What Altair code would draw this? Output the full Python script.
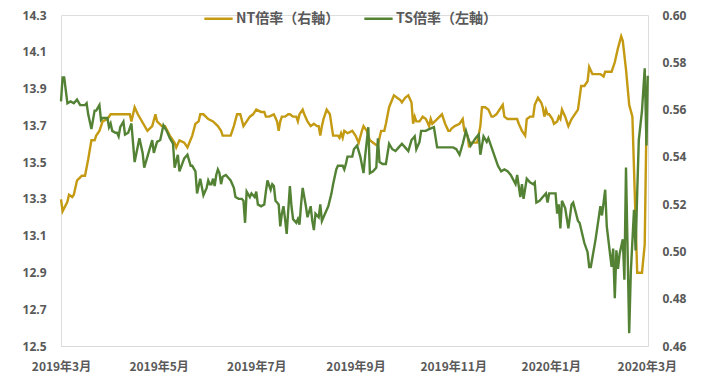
import altair as alt
import pandas as pd

# days since 2019-03-01 and values
nt_days = [0, 1, 4, 5, 7, 8, 10, 13, 15, 17, 19, 21, 22, 24, 26, 29, 31, 33, 43, 44, 46, 48, 54, 57, 59, 60,
           63, 65, 68, 71, 72, 74, 77, 79, 82, 84, 86, 87, 89, 92, 95, 98, 100, 101, 106, 107, 108, 110, 112,
           114, 116, 118, 120, 122, 125, 127, 128, 130, 133, 135, 136, 137, 138, 140, 142, 143, 145, 147, 148,
           149, 151, 152, 154, 156, 158, 160, 161, 162, 163, 164, 166, 168, 170, 172, 173, 174, 175, 176, 177,
           179, 182, 184, 186, 188, 189, 191, 193, 195, 197, 198, 199, 200, 202, 203, 205, 208, 210, 212, 213,
           214, 215, 217, 219, 220, 221, 222, 224, 226, 228, 230, 231, 232, 235, 238, 240, 242, 243, 244, 246,
           249, 251, 252, 254, 255, 256, 258, 260, 262, 263, 265, 267, 269, 270, 272, 275, 276, 277, 279, 283,
           285, 286, 288, 290, 291, 293, 295, 296, 298, 300, 301, 302, 303, 304, 305, 307, 308, 310, 311, 312,
           313, 315, 317, 319, 321, 323, 325, 327, 329, 330, 332, 337, 339, 340, 344, 346, 348, 350, 351, 353,
           355, 357, 360, 363, 364.7, 365.8]
nt_vals = [0.522, 0.517, 0.521, 0.524, 0.523, 0.524, 0.530, 0.532, 0.532, 0.539, 0.547, 0.547, 0.549, 0.551,
           0.555, 0.556, 0.558, 0.558, 0.558, 0.555, 0.561, 0.558, 0.551, 0.553, 0.558, 0.555,
           0.553, 0.553, 0.549, 0.546, 0.544, 0.547, 0.546, 0.544, 0.549, 0.554, 0.555, 0.558, 0.558, 0.556,
           0.555, 0.553, 0.551, 0.549, 0.549, 0.551, 0.553, 0.558, 0.558,
           0.553, 0.555, 0.557, 0.558, 0.560, 0.559, 0.559, 0.557, 0.557, 0.558, 0.555, 0.551, 0.555, 0.557,
           0.557, 0.558, 0.558, 0.557, 0.557, 0.555,
           0.558, 0.560, 0.558, 0.555, 0.553, 0.554, 0.553, 0.553, 0.549, 0.553, 0.556, 0.560, 0.558, 0.549,
           0.549, 0.549, 0.548, 0.550, 0.548, 0.551,
           0.550, 0.551, 0.549, 0.546, 0.551, 0.553, 0.551, 0.547, 0.546, 0.545, 0.545, 0.548, 0.551, 0.551,
           0.554, 0.561, 0.566, 0.565, 0.564, 0.563,
           0.564, 0.565, 0.566, 0.563, 0.554, 0.557, 0.555, 0.555, 0.557, 0.556, 0.553, 0.556, 0.554, 0.556,
           0.558, 0.554, 0.551, 0.551, 0.552, 0.553,
           0.554, 0.556, 0.551, 0.549, 0.544, 0.546, 0.546, 0.546, 0.553, 0.561, 0.561, 0.560, 0.557, 0.557,
           0.558, 0.561, 0.562, 0.557, 0.556, 0.556,
           0.556, 0.554, 0.551, 0.549, 0.556, 0.557, 0.557, 0.562, 0.565, 0.563, 0.561, 0.557, 0.560, 0.558,
           0.558, 0.556, 0.554, 0.555, 0.557, 0.556,
           0.560, 0.557, 0.553, 0.556, 0.558, 0.560, 0.570, 0.570, 0.572, 0.578, 0.575, 0.575, 0.574, 0.576,
           0.576, 0.580, 0.586, 0.591, 0.589, 0.577,
           0.562, 0.557, 0.491, 0.491, 0.503, 0.555]

ts_days = [0, 1, 2, 4, 6, 8, 10, 12, 15, 16, 17, 19, 21, 22, 24, 25, 26, 29, 30, 31, 32, 34, 35, 36, 37, 39,
           40, 42, 44, 46, 49, 51, 52, 55, 57, 58, 60, 62, 64, 66, 68, 70, 71, 73, 74, 77, 79, 81, 82, 84, 85,
           87, 89, 91, 92, 93, 94, 95, 96, 97, 98, 99, 100, 101, 103, 106, 108, 109, 111, 113, 114, 115, 116,
           118, 119, 121, 122, 123, 125, 127, 128, 129, 131, 132, 133, 134, 135, 136, 137, 138, 139, 140, 141,
           143, 144, 145, 147, 148, 149, 150, 151, 153, 154, 156, 157, 158, 159, 160, 161, 162, 163, 165, 167,
           169, 170, 172, 173, 175, 176, 177, 178, 179, 182, 183, 185, 186, 187, 189, 190, 192, 193, 195, 197,
           198, 199, 201, 203, 205, 207, 209, 211, 213, 215, 217, 219, 221, 222, 224, 225, 228, 230, 233, 235,
           238, 240, 242, 245, 247, 249, 251, 253, 254, 256, 259, 261, 262, 264, 266, 267, 269, 271, 273, 275,
           277, 279, 281, 284, 285, 287, 288, 289, 291, 293, 295, 296, 297, 299, 301, 303, 304, 305, 309, 310,
           311, 312, 313, 315, 317, 319, 320, 323, 324, 327, 329, 330, 331, 334, 337, 338, 340, 341, 344, 345,
           346, 347, 348, 349, 351, 352, 353, 355, 356, 358, 359, 360, 361, 363, 364.7, 365.8, 366.6]
ts_vals = [13.83, 13.96, 13.96, 13.82, 13.83, 13.82, 13.84, 13.81, 13.81, 13.82, 13.76, 13.68, 13.78, 13.78,
           13.81, 13.73, 13.74, 13.74, 13.69, 13.71, 13.67, 13.66, 13.66, 13.64, 13.69, 13.72,
           13.65, 13.66, 13.71, 13.50, 13.63, 13.55, 13.47, 13.56, 13.62, 13.55, 13.61, 13.62, 13.70, 13.67,
           13.63, 13.60, 13.47, 13.54, 13.45, 13.52, 13.54, 13.48, 13.48, 13.45, 13.33,
           13.41, 13.32, 13.36, 13.40, 13.38, 13.38, 13.41, 13.37, 13.43, 13.46, 13.44, 13.38, 13.42, 13.43,
           13.40, 13.36, 13.31, 13.30, 13.30, 13.29, 13.17, 13.34,
           13.31, 13.33, 13.31, 13.34, 13.27, 13.26, 13.27, 13.34, 13.40, 13.35, 13.38, 13.37, 13.29, 13.28,
           13.27, 13.15, 13.22, 13.26, 13.19, 13.11,
           13.37, 13.26, 13.19, 13.17, 13.19, 13.16, 13.27, 13.36, 13.26, 13.20, 13.26, 13.18, 13.13, 13.22,
           13.21, 13.20, 13.27, 13.18, 13.22, 13.26,
           13.33, 13.38, 13.46, 13.48, 13.48, 13.48, 13.46, 13.49, 13.53, 13.53, 13.57, 13.59, 13.56, 13.53,
           13.44, 13.53, 13.69, 13.44, 13.45, 13.47,
           13.63, 13.50, 13.49, 13.49, 13.60, 13.57, 13.56, 13.58, 13.60, 13.58, 13.56, 13.62, 13.64, 13.57,
           13.61, 13.67, 13.67, 13.68, 13.69, 13.58,
           13.58, 13.58, 13.58, 13.58, 13.57, 13.54, 13.60, 13.67, 13.64, 13.59, 13.63, 13.65, 13.54, 13.64,
           13.61, 13.63, 13.58, 13.53, 13.48, 13.45,
           13.46, 13.45, 13.43, 13.38, 13.43, 13.31, 13.38, 13.30, 13.41, 13.39, 13.38, 13.39, 13.28, 13.29,
           13.31, 13.33, 13.28, 13.33, 13.33, 13.22,
           13.27, 13.14, 13.29, 13.25, 13.14, 13.27, 13.28, 13.18, 13.17, 13.06, 13.01, 12.93, 12.93, 13.08,
           13.26, 13.21, 13.35, 13.15, 12.93, 13.03,
           12.76, 13.02, 12.92, 13.00, 13.08, 12.86, 13.47, 12.57, 12.90, 13.24, 13.02, 13.33, 13.62, 13.78,
           14.01, 13.59, 13.97]

series_names = ["NT倍率（右軸）", "TS倍率（左軸）"]
series_colors = ["#C49A12", "#548235"]

base_date = pd.Timestamp("2019-03-01")


def to_iso(days):
    return [(base_date + pd.Timedelta(days=float(d))).strftime("%Y-%m-%dT%H:%M:%SZ") for d in days]


nt_df = pd.DataFrame({"date": to_iso(nt_days), "value": nt_vals, "series": series_names[0]})
ts_df = pd.DataFrame({"date": to_iso(ts_days), "value": ts_vals, "series": series_names[1]})

CJK = "Noto Sans CJK JP"
NUM = "Noto Sans"
GREY = "#595959"

x_ticks = [alt.DateTime(year=y, month=m, date=1, utc=True)
           for (y, m) in [(2019, 3), (2019, 5), (2019, 7), (2019, 9), (2019, 11), (2020, 1), (2020, 3)]]

x_enc = alt.X(
    "date:T",
    scale=alt.Scale(type="utc",
                    domain=[alt.DateTime(year=2019, month=3, date=1, utc=True),
                            alt.DateTime(year=2020, month=3, date=1, hours=18, utc=True)]),
    axis=alt.Axis(values=x_ticks, labelExpr="utcFormat(datum.value, '%Y') + '年' + utcFormat(datum.value, '%-m') + '月'",
                  title=None, grid=False, labelFlush=False, labelOverlap=False, labelBound=False,
                  ticks=False, labelAngle=0, labelPadding=15, domainColor="#D9D9D9", domainWidth=1,
                  labelFont=CJK, labelFontSize=12, labelFontWeight="bold", labelColor=GREY),
)

color_enc = alt.Color(
    "series:N",
    scale=alt.Scale(domain=series_names, range=series_colors),
    legend=alt.Legend(title=None, orient="none", legendX=142, legendY=-12, direction="horizontal",
                      symbolType="stroke", symbolSize=800, symbolStrokeWidth=2.5, labelFont=CJK,
                      labelFontSize=14, labelFontWeight="bold", labelColor=GREY, labelOffset=2,
                      columnPadding=19),
)

ts_line = alt.Chart(ts_df).mark_line(strokeWidth=2.4, clip=False).encode(
    x=x_enc,
    y=alt.Y("value:Q", scale=alt.Scale(domain=[12.5, 14.3], nice=False, zero=False),
            axis=alt.Axis(values=[12.5, 12.7, 12.9, 13.1, 13.3, 13.5, 13.7, 13.9, 14.1, 14.3], format=".1f",
                          title=None, grid=False, ticks=False, domain=False, orient="left", labelPadding=15,
                          labelFont=NUM, labelFontSize=12, labelFontWeight="bold", labelColor=GREY)),
    color=color_enc,
)

nt_line = alt.Chart(nt_df).mark_line(strokeWidth=2.4, clip=False).encode(
    x=x_enc,
    y=alt.Y("value:Q", scale=alt.Scale(domain=[0.46, 0.60], nice=False, zero=False),
            axis=alt.Axis(values=[0.46, 0.48, 0.50, 0.52, 0.54, 0.56, 0.58, 0.60], format=".2f",
                          title=None, grid=False, ticks=False, domain=False, orient="right", labelPadding=14,
                          labelFont=NUM, labelFontSize=12, labelFontWeight="bold", labelColor=GREY)),
    color=color_enc,
)

chart = alt.layer(nt_line, ts_line).resolve_scale(y="independent").properties(
    width=587, height=331,
    autosize=alt.AutoSizeParams(type="none"),
    padding={"left": 53, "top": 7, "right": 50, "bottom": 30},
).configure_view(stroke=None).configure(background="white")

chart.save("out.html", embed_options={"renderer": "svg", "actions": False})
